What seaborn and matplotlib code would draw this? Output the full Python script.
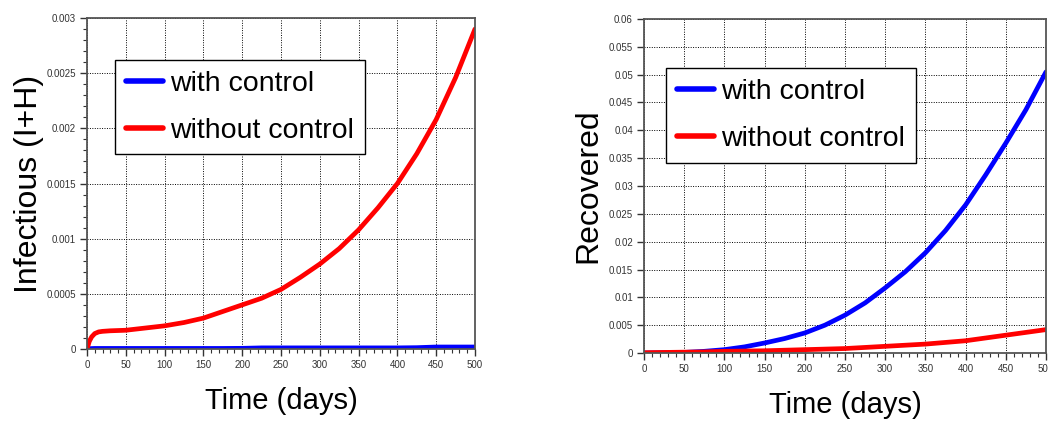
import numpy as np
import pandas as pd
import matplotlib
matplotlib.use("Agg")
import matplotlib.pyplot as plt
from matplotlib.ticker import MultipleLocator, FuncFormatter
import seaborn as sns

# ---------------- data ----------------
series_names = ["with control", "without control"]
series_colors = ["#0000ff", "#ff0000"]

t_inf = [0, 3, 6, 10, 15, 20, 30, 50, 75, 100, 125, 150, 175, 200, 225, 250,
         275, 300, 325, 350, 375, 400, 425, 450, 475, 500]
inf_with = [0, 0.000003, 0.000004, 0.000005, 0.000005, 0.000005, 0.000005,
            0.000005, 0.000005, 0.000005, 0.000005, 0.000005, 0.000005,
            0.000006, 0.00001, 0.00001, 0.00001, 0.00001, 0.00001, 0.00001,
            0.00001, 0.00001, 0.000012, 0.000018, 0.000018, 0.000018]
inf_without = [0, 0.00007, 0.00011, 0.00014, 0.000155, 0.00016, 0.000165,
               0.00017, 0.00019, 0.00021, 0.00024, 0.00028, 0.00034, 0.0004,
               0.00046, 0.00054, 0.00065, 0.00077, 0.00091, 0.00108, 0.00128,
               0.0015, 0.00177, 0.00208, 0.00246, 0.0029]

t_rec = [0, 25, 50, 75, 100, 125, 150, 175, 200, 225, 250, 275, 300, 325,
         350, 375, 400, 425, 450, 475, 500]
rec_with = [0, 0.00005, 0.0001, 0.0003, 0.0006, 0.0011, 0.0018, 0.0026,
            0.0036, 0.005, 0.0068, 0.009, 0.0117, 0.0146, 0.018, 0.022,
            0.0266, 0.032, 0.0377, 0.0437, 0.0505]
rec_without = [0.00005, 0.0001, 0.00015, 0.0002, 0.0003, 0.00035, 0.0004,
               0.0005, 0.0006, 0.0007, 0.0008, 0.001, 0.0012, 0.0014, 0.0016,
               0.0019, 0.0022, 0.0027, 0.0032, 0.0037, 0.0042]

x_label = "Time (days)"
y_label_left = "Infectious (I+H)"
y_label_right = "Recovered"

# ---------------- style ----------------
sns.set_theme(style="white")
plt.rcParams["font.family"] = ["Liberation Sans", "DejaVu Sans"]
plt.rcParams["text.color"] = "black"

fig = plt.figure(figsize=(10.48, 4.21), dpi=100)
W, H = 1048, 421


def px_axes(x0, x1, ytop, ybot):
    return fig.add_axes([x0 / W, (H - ybot) / H, (x1 - x0) / W, (ybot - ytop) / H])


ax1 = px_axes(87, 475, 18, 349)
ax2 = px_axes(644, 1046, 19, 353)

palette = dict(zip(series_names, series_colors))


def make_df(t, a, b):
    return pd.DataFrame({
        "t": list(t) + list(t),
        "v": list(a) + list(b),
        "s": [series_names[0]] * len(t) + [series_names[1]] * len(t),
    })


sns.lineplot(data=make_df(t_inf, inf_with, inf_without), x="t", y="v", hue="s",
             hue_order=series_names, palette=palette, linewidth=3.4, ax=ax1,
             estimator=None, sort=False)
sns.lineplot(data=make_df(t_rec, rec_with, rec_without), x="t", y="v", hue="s",
             hue_order=series_names, palette=palette, linewidth=3.4, ax=ax2,
             estimator=None, sort=False)

fmt = FuncFormatter(lambda v, p: "%g" % round(v, 6))

for ax, ylim, ystep, yminor, ylab, ypad, leg_xy in [
    (ax1, 0.003, 0.0005, 0.0001, y_label_left, 2, (0.072, 0.874)),
    (ax2, 0.06, 0.005, None, y_label_right, 4, (0.055, 0.853)),
]:
    ax.set_xlim(0, 500)
    ax.set_ylim(0, ylim)
    ax.xaxis.set_major_locator(MultipleLocator(50))
    ax.xaxis.set_minor_locator(MultipleLocator(10))
    ax.yaxis.set_major_locator(MultipleLocator(ystep))
    if yminor:
        ax.yaxis.set_minor_locator(MultipleLocator(yminor))
    ax.yaxis.set_major_formatter(fmt)
    ax.xaxis.set_major_formatter(fmt)
    ax.grid(True, which="major", color="black", linestyle=(0, (1, 1.5)), linewidth=0.7)
    ax.set_axisbelow(True)
    for sp in ax.spines.values():
        sp.set_color("#555555")
        sp.set_linewidth(1.3)
        sp.set_visible(True)
    ax.tick_params(which="major", direction="out", length=5, width=1.0,
                   color="#333333", labelsize=7, labelcolor="#333333",
                   bottom=True, left=True, pad=3)
    ax.tick_params(which="minor", direction="out", length=3, width=0.8,
                   color="#333333", bottom=True, left=True)
    ax.set_xlabel(x_label, fontsize=21, color="black", labelpad=12)
    ax.set_ylabel(ylab, fontsize=23, color="black", labelpad=ypad)
    leg = ax.legend(loc="upper left", bbox_to_anchor=leg_xy, borderaxespad=0,
                    fontsize=20.5, frameon=True, fancybox=False, framealpha=1,
                    edgecolor="black", handlelength=1.3, handletextpad=0.25,
                    labelspacing=0.74, borderpad=0.38, title=None,
                    labelcolor="black")
    leg.get_frame().set_linewidth(1.0)
    for ln in leg.get_lines():
        ln.set_linewidth(4)

fig.savefig("out.png", dpi=100)
